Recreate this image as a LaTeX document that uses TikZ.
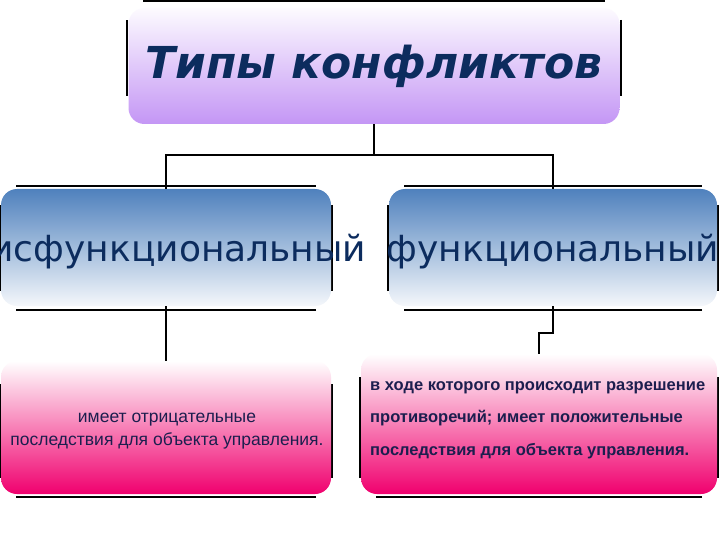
\documentclass[tikz,border=0pt]{standalone}
\usepackage{fontspec}
\setmainfont{Liberation Sans}
\newfontfamily\headfont{DejaVu Sans}
\usetikzlibrary{positioning}

\definecolor{navy}{RGB}{12,44,94}
\definecolor{inkblue}{RGB}{28,30,78}
\definecolor{lilac}{RGB}{196,150,245}
\definecolor{steel}{RGB}{79,129,189}
\definecolor{pinkred}{RGB}{240,0,110}

\begin{document}
\begin{tikzpicture}[x=1pt, y=-1pt,
  box/.style={rounded corners=16pt, inner sep=0pt, draw=none},
  headbox/.style={box, top color=white!96!lilac, bottom color=lilac},
  kindbox/.style={box, top color=steel, bottom color=white!94!steel},
  notebox/.style={box, top color=white, bottom color=pinkred},
  frame/.style={line width=1.2pt, black},
  link/.style={line width=1.6pt, black},
  kindtext/.style={font=\headfont\fontsize{36}{36}\selectfont, text=navy, inner sep=0pt},
  notetext/.style={font=\fontsize{17.5}{23}\selectfont, text=inkblue, inner sep=0pt}
]
\useasboundingbox (0,0) rectangle (720,540);
\fill[white] (0,0) rectangle (720,540);

% Frames behind the boxes
\foreach \xa/\ya/\xb/\yb in {127/1/621/115, 0/186/332/310, 388/186/718/310,
    0/365/332/497, 360/358/718/497} {
  \draw[frame] (\xa+16,\ya) -- (\xb-16,\ya);
  \draw[frame] (\xb,\ya+19) -- (\xb,\yb-19);
  \draw[frame] (\xb-16,\yb) -- (\xa+16,\yb);
  \draw[frame] (\xa,\yb-19) -- (\xa,\ya+19);
}

% Boxes
\node[headbox, minimum width=491pt, minimum height=116pt,
  font=\headfont\bfseries\itshape\fontsize{44}{44}\selectfont, text=navy]
  (types) at (374,66) {Типы конфликтов};
\node[kindbox, minimum width=330pt, minimum height=117pt] (dys) at (166,247.5) {};
\node[kindbox, minimum width=328pt, minimum height=117pt] (fun) at (553,247.5) {};
\node[notebox, minimum width=330pt, minimum height=133pt] (neg) at (166,427.5) {};
\node[notebox, minimum width=356pt, minimum height=140pt] (pos) at (539,424) {};

% Texts
\node[kindtext] (dystext) at (166,252) {дисфункциональный};
\node[kindtext] (funtext) at (553,252) {функциональный};
\node[notetext, align=center] (negtext) at (167,431)
  {имеет отрицательные\\последствия для объекта управления.};
\node[notetext, font=\bfseries\fontsize{16.5}{32.5}\selectfont, align=left, anchor=west]
  (postext) at (370,420)
  {в ходе которого происходит разрешение\\противоречий; имеет положительные\\последствия для объекта управления.};

% Connectors
\draw[link] (types.south) -- ++(0,31) coordinate (split);
\draw[link] (split) -| (dys.north);
\draw[link] (split) -| (fun.north);
\draw[link] (dys.south) -- (neg.north);
\draw[link] (fun.south) -- ++(0,27) -| (pos.north);

\end{tikzpicture}
\end{document}
